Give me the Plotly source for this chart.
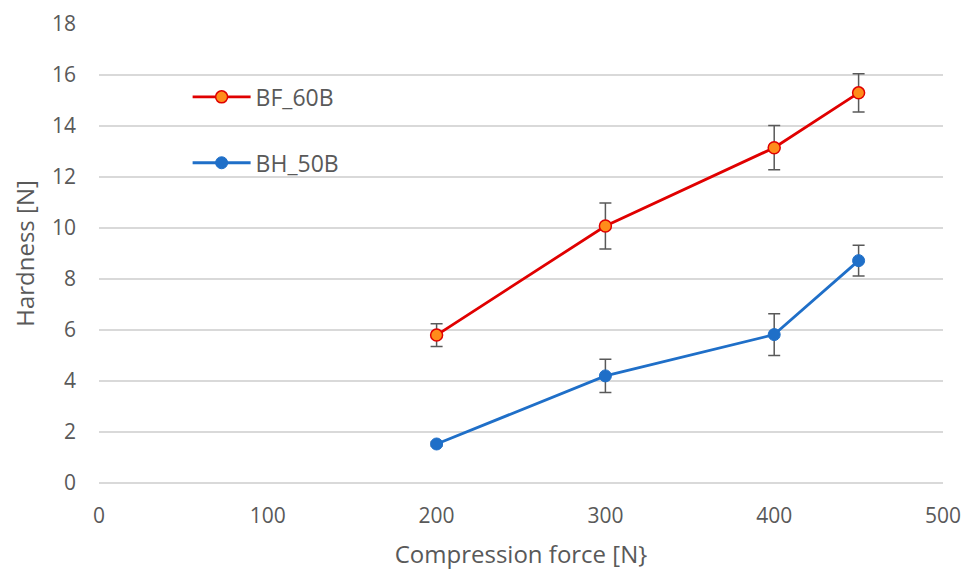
import plotly.graph_objects as go

force = [200, 300, 400, 450]
bf_60b = [5.8, 10.08, 13.15, 15.3]
bf_err = [0.45, 0.9, 0.87, 0.75]
bh_50b = [1.53, 4.2, 5.82, 8.72]
bh_err = [0.08, 0.65, 0.82, 0.6]

fig = go.Figure()
fig.add_trace(go.Scatter(
    x=force, y=bf_60b, name="BF_60B", mode="lines+markers", legendgroup="a",
    line=dict(color="#E00000", width=2.8),
    marker=dict(size=12, color="#FF8C1A", line=dict(color="#E00000", width=1.5)),
    error_y=dict(type="data", array=bf_err, color="#595959", thickness=1.5, width=6),
))
fig.add_trace(go.Scatter(
    x=force, y=bh_50b, name="BH_50B", mode="lines+markers", legendgroup="b",
    line=dict(color="#1F6FC8", width=2.8),
    marker=dict(size=12, color="#1F6FC8", line=dict(color="#1F6FC8", width=1)),
    error_y=dict(type="data", array=bh_err, color="#595959", thickness=1.5, width=6),
))

fig.update_layout(
    width=962, height=570,
    margin=dict(l=99, r=19, t=24, b=87),
    plot_bgcolor="white", paper_bgcolor="white",
    font=dict(family="Open Sans", size=21, color="#595959"),
    legend=dict(x=0.105, y=0.888, xanchor="left", yanchor="top",
                traceorder="grouped", tracegroupgap=33, itemwidth=58,
                font=dict(size=23, color="#595959"), bgcolor="rgba(0,0,0,0)"),
    xaxis=dict(range=[0, 500], tickvals=[0, 100, 200, 300, 400, 500],
               showgrid=False, zeroline=False, showline=False, automargin=False,
               tickfont=dict(size=21),
               title=dict(text="Compression force [N}", font=dict(size=24), standoff=18),
               ticks="", ticklabelstandoff=18),
    yaxis=dict(range=[0, 18], tickvals=list(range(0, 19, 2)),
               showgrid=True, gridcolor="#D9D9D9", gridwidth=1.5,
               zeroline=True, zerolinecolor="#D9D9D9", zerolinewidth=1.5,
               showline=False, automargin=False,
               tickfont=dict(size=21),
               title=dict(text="Hardness [N]", font=dict(size=24), standoff=10),
               ticks="", ticklabelstandoff=22),
)
fig.write_html(
    "out.html",
    config={"displayModeBar": False},
    post_script="document.body.style.margin='0';document.body.style.overflow='hidden';",
)
